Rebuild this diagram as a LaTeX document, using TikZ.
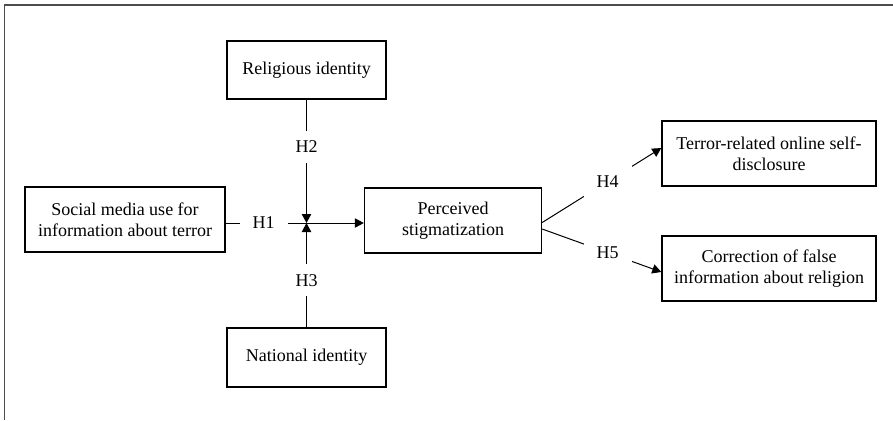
\documentclass[tikz,border=0pt]{standalone}
\usepackage{fontspec}
\setmainfont{Liberation Serif}
\usetikzlibrary{arrows.meta}
\tikzset{
  varbox/.style={draw,line width=0.7pt,align=center,inner sep=0pt,font=\fontsize{9}{10.4}\selectfont},
  hyp/.style={fill=white,inner sep=0pt,minimum width=24pt,minimum height=16pt,font=\fontsize{9}{10.4}\selectfont},
  link/.style={line width=0.5pt},
  tip/.style={-{Triangle[length=4.5pt,width=4.7pt]}},
}

\begin{document}
\begin{tikzpicture}[x=0.5pt,y=-0.5pt]
        \useasboundingbox (0,0) rectangle (893,420);
        \draw [black!70,line width=0.6pt] (4.6,420) -- (4.6,5) -- (893,5);
        \node (rel) at (306.5,70) [varbox,minimum width=79.5pt,minimum height=29pt] {Religious identity};
        \node (nat) at (306.5,357.5) [varbox,minimum width=79.5pt,minimum height=29.5pt] {National identity};
        \node (soc) at (125,219.5) [varbox,minimum width=100pt,minimum height=32.5pt] {Social media use for\\information about terror};
        \node (per) at (453,220.5) [varbox,minimum width=88.5pt,minimum height=32.5pt] {Perceived\\stigmatization};
        \node (ter) at (769,153.5) [varbox,minimum width=107pt,minimum height=32.5pt] {Terror-related online self-\\disclosure};
        \node (cor) at (769,268.5) [varbox,minimum width=107pt,minimum height=32.5pt] {Correction of false\\information about religion};
        \coordinate (jn) at (306.5,223);
        % moderation onto the H1 path
        \draw [link,tip] (soc.east |- jn) -- node[hyp,pos=0.47] {H1} (jn) -- (per.west |- jn);
        \draw [link,tip] (rel.south) -- node[hyp,pos=0.38] {H2} (jn);
        \draw [link,tip] (nat.north) -- node[hyp,pos=0.45] {H3} (jn);
        % outcomes
        \draw [link,tip] ([yshift=-1pt]per.east) -- node[hyp,pos=0.55] {H4} ([yshift=2.75pt]ter.west);
        \draw [link,tip] ([yshift=-4.25pt]per.east) -- node[hyp,pos=0.55] {H5} ([yshift=-1.75pt]cor.west);
      \end{tikzpicture}
\end{document}
